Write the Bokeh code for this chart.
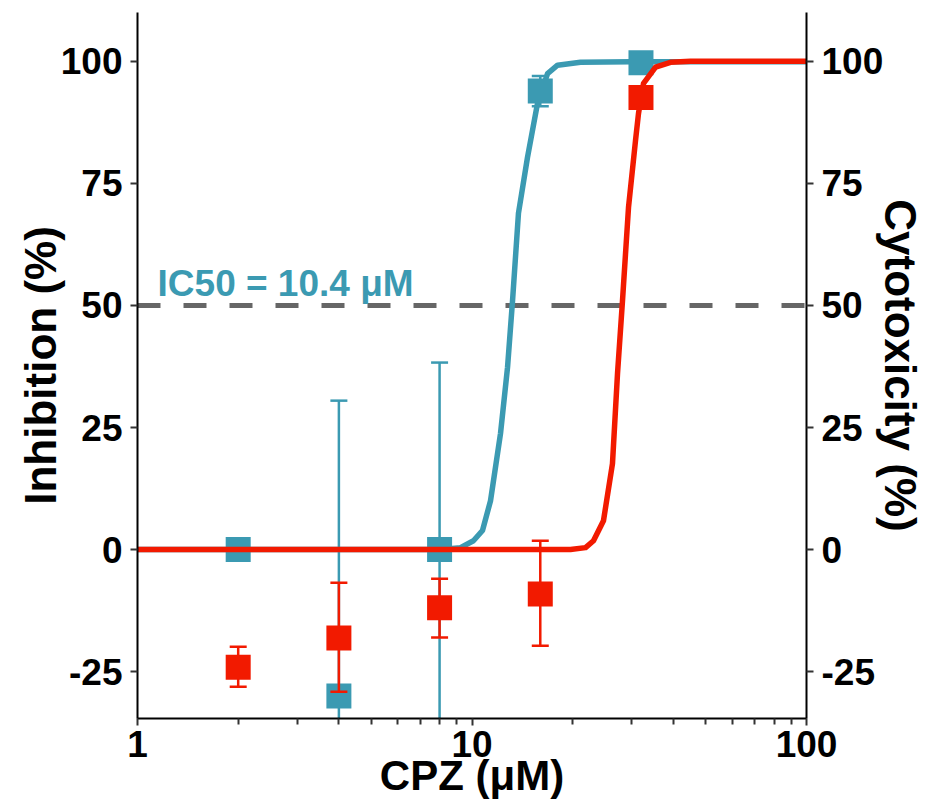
from bokeh.plotting import figure
from bokeh.models import LinearAxis, FixedTicker, Label, Range1d
from bokeh.embed import file_html
from bokeh.resources import INLINE

# ---- data ----
conc = [2, 4, 8, 16, 32]

inhib_mean = [0.0, -30.0, 0.0, 93.9, 99.7]
inhib_upper = [0.0, 30.5, 38.3, 97.0, 99.7]
inhib_lower = [0.0, -90.5, -38.3, 90.8, 99.7]

cyto_mean = [-24.1, -18.1, -11.9, -9.1, 92.6]
cyto_upper = [-19.9, -6.8, -6.0, 1.8, 92.6]
cyto_lower = [-28.1, -29.1, -18.0, -19.7, 92.6]

inhib_fit_x = [1, 8.05, 9.24, 10.1, 10.75, 11.36, 12.17, 12.77, 13.22, 13.77,
               14.65, 15.70, 16.82, 18.02, 21.1, 30, 100]
inhib_fit_y = [0, 0, 0.4, 1.8, 3.9, 10.0, 23.8, 37.3, 51.0, 68.9,
               80.3, 91.4, 97.5, 99.2, 99.8, 99.9, 99.9]

cyto_fit_x = [1, 19.7, 21.85, 23.08, 24.72, 26.30, 27.23, 28.18, 29.37, 30.82,
              31.46, 32.57, 35.38, 39.21, 45.0, 100]
cyto_fit_y = [0, 0, 0.4, 1.8, 5.9, 17.6, 36.1, 51.0, 70.1, 83.8,
              89.3, 95.5, 98.8, 99.8, 100, 100]

ref_x = [1, 100]
ref_y = [50, 50]

y_ticks = [-25, 0, 25, 50, 75, 100]
y_tick_labels = {-25: "-25", 0: "0", 25: "25", 50: "50", 75: "75", 100: "100"}
x_ticks = [1, 10, 100]
x_minor = [2, 3, 4, 5, 6, 7, 8, 9, 20, 30, 40, 50, 60, 70, 80, 90]
x_tick_labels = {1: "1", 10: "10", 100: "100"}

ic50_text = "IC50 = 10.4 \u03bcM"
x_title = "CPZ (\u03bcM)"

BLUE = "#3B9AB2"
RED = "#F21A00"
FONT = "Liberation Sans"

p = figure(width=928, height=810, x_axis_type="log",
           x_range=Range1d(1, 100), y_range=Range1d(-34.6, 110),
           output_backend="svg", toolbar_location=None,
           min_border_left=137, min_border_right=122,
           min_border_top=12, min_border_bottom=92)
p.outline_line_color = None
p.xgrid.visible = False
p.ygrid.visible = False
p.background_fill_color = "white"
p.border_fill_color = "white"

# reference line
p.line(ref_x, ref_y, line_color="#666666", line_width=5, line_dash="23 23")

# inhibition
p.line(inhib_fit_x, inhib_fit_y, line_color=BLUE, line_width=5.5, line_join="round")
p.segment(x0=conc, y0=inhib_lower, x1=conc, y1=inhib_upper, line_color=BLUE, line_width=2.5)
p.scatter(conc, inhib_upper, marker="dash", size=17, line_color=BLUE, line_width=2.5)
p.scatter(conc, inhib_lower, marker="dash", size=17, line_color=BLUE, line_width=2.5)
p.scatter(conc, inhib_mean, marker="square", size=25, fill_color=BLUE, line_color=None)

# cytotoxicity
p.line(cyto_fit_x, cyto_fit_y, line_color=RED, line_width=5.5, line_join="round")
p.segment(x0=conc, y0=cyto_lower, x1=conc, y1=cyto_upper, line_color=RED, line_width=2.5)
p.scatter(conc, cyto_upper, marker="dash", size=17, line_color=RED, line_width=2.5)
p.scatter(conc, cyto_lower, marker="dash", size=17, line_color=RED, line_width=2.5)
p.scatter(conc, cyto_mean, marker="square", size=25, fill_color=RED, line_color=None)

p.add_layout(Label(x=1.148, y=50.25, text=ic50_text, text_font=FONT, text_font_style="bold",
                   text_font_size="37px", text_color=BLUE, text_baseline="bottom"))


def style_axis(ax):
    ax.axis_line_color = "black"
    ax.axis_line_width = 2
    ax.major_tick_line_color = "#333333"
    ax.major_tick_line_width = 2
    ax.major_tick_in = 0
    ax.major_tick_out = 7
    ax.major_label_text_font = FONT
    ax.major_label_text_font_style = "bold"
    ax.major_label_text_font_size = "37px"
    ax.major_label_text_color = "black"
    ax.major_label_standoff = 8
    ax.axis_label_text_font = FONT
    ax.axis_label_text_font_style = "bold"
    ax.axis_label_text_font_size = "44px"
    ax.axis_label_text_color = "black"


# x axis
xa = p.xaxis[0]
style_axis(xa)
xa.ticker = FixedTicker(ticks=x_ticks, minor_ticks=x_minor)
xa.major_label_overrides = x_tick_labels
xa.minor_tick_line_color = "#333333"
xa.minor_tick_line_width = 2
xa.minor_tick_in = 0
xa.minor_tick_out = 6
xa.major_label_standoff = 5
xa.axis_label = x_title
xa.axis_label_text_font_size = "42px"
xa.axis_label_standoff = -8

# left axis
ya = p.yaxis[0]
style_axis(ya)
ya.ticker = FixedTicker(ticks=y_ticks)
ya.major_label_overrides = y_tick_labels
ya.minor_tick_line_color = None
ya.axis_label = "Inhibition (%)"
ya.axis_label_standoff = -7

# right axis
ra = LinearAxis(ticker=FixedTicker(ticks=y_ticks), axis_label="Cytotoxicity (%)")
style_axis(ra)
ra.major_label_overrides = y_tick_labels
ra.minor_tick_line_color = None
ra.axis_label_standoff = -10
p.add_layout(ra, "right")

open("out.html", "w").write(file_html(p, INLINE))
